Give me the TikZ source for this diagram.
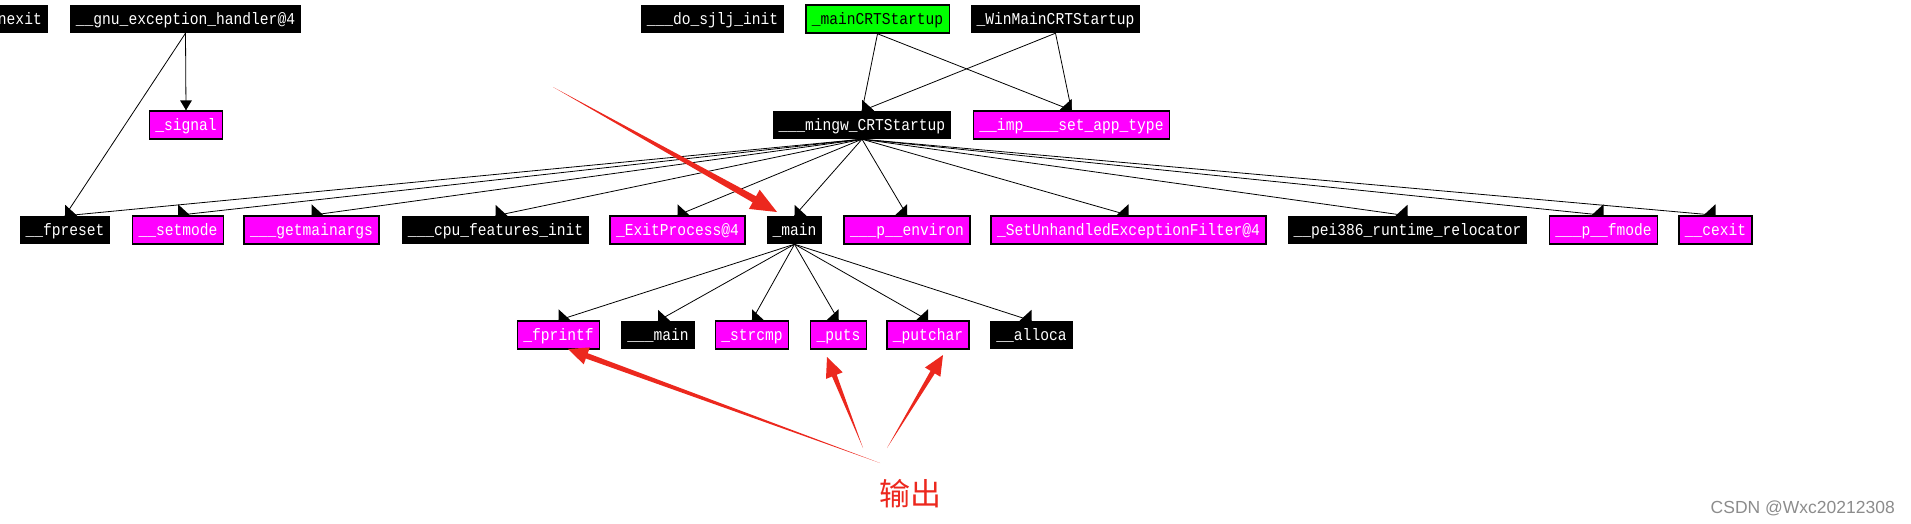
\documentclass[tikz,border=0pt]{standalone}
\usepackage{fontspec}
\newfontfamily\idafont[FakeStretch=0.88]{Liberation Mono}
\newfontfamily\cjkfont{Noto Sans CJK SC}
\newfontfamily\wmfont{Liberation Sans}
\usetikzlibrary{calc}
\definecolor{idamag}{RGB}{255,0,255}
\definecolor{idagreen}{RGB}{0,255,0}
\definecolor{annred}{RGB}{236,40,30}
\definecolor{wmgray}{RGB}{140,140,140}
\tikzset{
  fn/.style={font=\idafont\fontsize{16.6}{18}\selectfont, text=white, fill=black,
    minimum height=28pt, inner xsep=6pt, inner ysep=0pt, text height=12pt, text depth=2pt},
  impfn/.style={fn, fill=idamag, draw=black, line width=1.5pt},
  entryfn/.style={fn, fill=idagreen, draw=black, line width=1.5pt, text=black},
  callline/.style={line width=0.8pt, draw=black},
}
% src, dst, side of the arrowhead (12 = towards right, -12 = towards left)
\newcommand\callto[3]{%
  \draw[callline] (#1.south) -- (#2.north);
  \fill[black] (#2.north) -- ++(0,-11) -- ++(#3,11) -- cycle;}
\newcommand\callstraight[2]{%
  \draw[callline] (#1.south) -- (#2.north);
  \fill[black] (#2.north) -- ++(-6,-10) -- ++(12,0) -- cycle;}
% start, tip, head length, head half width, shaft half width
\newcommand\annarrow[5]{%
  \coordinate (hb) at ($(#2)!#3!(#1)$);
  \fill[annred] (#1) -- ($(hb)!#5!90:(#2)$) -- ($(hb)!#4!90:(#2)$) -- (#2)
     -- ($(hb)!#4!-90:(#2)$) -- ($(hb)!#5!-90:(#2)$) -- cycle;}
\begin{document}
\begin{tikzpicture}[x=1pt,y=-1pt]
\useasboundingbox (0,0) rectangle (1911,523);
% row 1
\node[fn, anchor=east] (nexit) at (48,19) {nexit};
\node[fn] (gnu) at (185.5,19) {\_\_gnu\_exception\_handler@4};
\node[fn] (sjlj) at (712.5,19) {\_\_\_do\_sjlj\_init};
\node[entryfn] (maincrt) at (877.5,19) {\_mainCRTStartup};
\node[fn] (winmain) at (1055.5,19) {\_WinMainCRTStartup};
% row 2
\node[impfn] (signal) at (186,125) {\_signal};
\node[fn] (mingw) at (862,125) {\_\_\_mingw\_CRTStartup};
\node[impfn] (imp) at (1071.5,125) {\_\_imp\_\_\_\_set\_app\_type};
% row 3
\node[fn] (fpreset) at (65,230) {\_\_fpreset};
\node[impfn] (setmode) at (178,230) {\_\_setmode};
\node[impfn] (getmainargs) at (311.5,230) {\_\_\_getmainargs};
\node[fn] (cpu) at (495.5,230) {\_\_\_cpu\_features\_init};
\node[impfn] (exitproc) at (677.5,230) {\_ExitProcess@4};
\node[fn] (main) at (794.5,230) {\_main};
\node[impfn] (environ) at (907,230) {\_\_\_p\_\_environ};
\node[impfn] (seh) at (1128.5,230) {\_SetUnhandledExceptionFilter@4};
\node[fn] (pei) at (1407.5,230) {\_\_pei386\_runtime\_relocator};
\node[impfn] (fmode) at (1603.5,230) {\_\_\_p\_\_fmode};
\node[impfn] (cexit) at (1715.5,230) {\_\_cexit};
% row 4
\node[impfn] (fprintf) at (558.5,335) {\_fprintf};
\node[fn] (mmain) at (658,335) {\_\_\_main};
\node[impfn] (strcmp) at (752,335) {\_strcmp};
\node[impfn] (puts) at (838.5,335) {\_puts};
\node[impfn] (putchar) at (928,335) {\_putchar};
\node[fn] (alloca) at (1031.5,335) {\_\_alloca};
% calls
\callstraight{gnu}{signal}
\callto{gnu}{fpreset}{12}
\callto{maincrt}{mingw}{12}
\callto{maincrt}{imp}{-12}
\callto{winmain}{mingw}{12}
\callto{winmain}{imp}{-12}
\foreach \t/\s in {fpreset/12,setmode/12,getmainargs/12,cpu/12,exitproc/12,main/12,
    environ/-12,seh/-12,pei/-12,fmode/-12,cexit/-12}
  {\callto{mingw}{\t}{\s}}
\foreach \t/\s in {fprintf/12,mmain/12,strcmp/12,puts/-12,putchar/-12,alloca/-12}
  {\callto{main}{\t}{\s}}
% annotations
\coordinate (a1s) at (553,87);
\coordinate (a1t) at (777,212);
\coordinate (a2s) at (880,463);
\coordinate (a2t) at (568,349);
\coordinate (a3s) at (863,448);
\coordinate (a3t) at (827,357);
\coordinate (a4s) at (887,448);
\coordinate (a4t) at (943,355);
\annarrow{a1s}{a1t}{26pt}{11pt}{3.5pt}
\annarrow{a2s}{a2t}{20pt}{9pt}{2.8pt}
\annarrow{a3s}{a3t}{20pt}{9pt}{2.5pt}
\annarrow{a4s}{a4t}{20pt}{9pt}{2.5pt}
\node[font=\cjkfont\fontsize{31}{31}\selectfont, text=annred, anchor=base, inner sep=0pt] (out) at (910,505) {输出};
\node[font=\wmfont\fontsize{17.5}{19}\selectfont, text=wmgray, anchor=base east, inner sep=0pt] (wm) at (1895,513) {CSDN @Wxc20212308};
\end{tikzpicture}
\end{document}
